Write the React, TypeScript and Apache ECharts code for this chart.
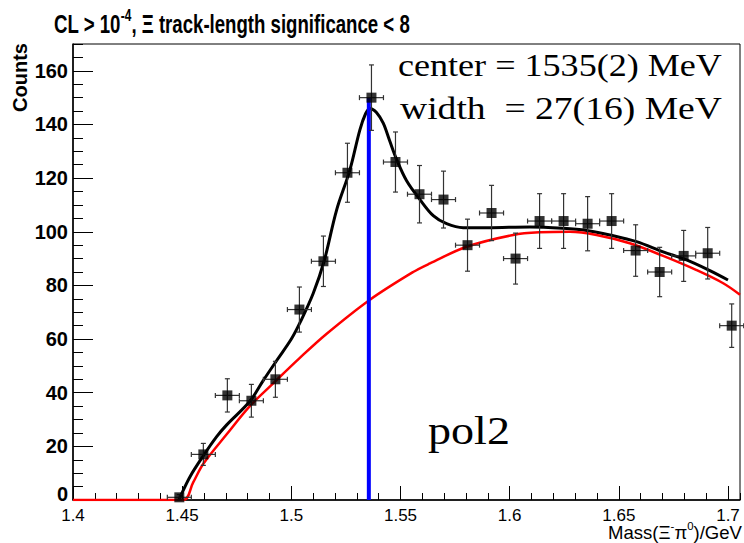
import React, { useEffect, useRef } from "react";
import * as echarts from "echarts";

// ---- data ----
const massBins = [
  1.4487, 1.4597, 1.4707, 1.4817, 1.4927, 1.5037, 1.5147, 1.5257, 1.5367, 1.5477, 1.5587, 1.5697,
  1.5807, 1.5917, 1.6027, 1.6137, 1.6247, 1.6357, 1.6467, 1.6577, 1.6687, 1.6797, 1.6907, 1.7017,
];
const counts = [1, 17, 39, 37, 45, 71, 89, 122, 150, 126, 114, 112, 95, 107, 90, 104, 104, 103, 104, 93, 85, 91, 92, 65];
const countErrors = [
  1, 4.1, 6.2, 6.1, 6.7, 8.4, 9.4, 11.0, 12.2, 11.2, 10.7, 10.6, 9.7, 10.3, 9.5, 10.2, 10.2, 10.1, 10.2, 9.6, 9.2,
  9.5, 9.6, 8.1,
];
const binHalfWidth = 0.0055;

const fitMass = [
  1.4485, 1.449, 1.4536, 1.4597, 1.4658, 1.4704, 1.481, 1.4871, 1.4933, 1.5, 1.5039, 1.51, 1.515, 1.5207, 1.5268,
  1.5314, 1.534, 1.536, 1.539, 1.5421, 1.545, 1.5482, 1.5528, 1.5589, 1.565, 1.5711, 1.5787, 1.59, 1.6093, 1.6245,
  1.6352, 1.6459, 1.6581, 1.6703, 1.681, 1.6917, 1.7,
];
const fitCounts = [
  0, 1, 8.7, 16.5, 23.6, 28, 36.8, 44.5, 52, 60, 66, 77, 89, 108, 123, 138, 144, 146, 144.5, 140.5, 134, 127, 119,
  112, 106, 103, 101.5, 101.5, 101.8, 101.3, 100.5, 98.8, 96.3, 92.5, 89.5, 85.5, 82,
];

const bkgMass = [
  1.4, 1.4504, 1.455, 1.4597, 1.4704, 1.481, 1.4917, 1.5039, 1.5162, 1.5357, 1.5558, 1.5635, 1.5803, 1.6016, 1.6138,
  1.6276, 1.6398, 1.655, 1.6703, 1.6856, 1.6978, 1.7055,
];
const bkgCounts = [0, 0, 6.5, 13.5, 24.5, 35, 43.5, 53, 62, 74.5, 85, 88.2, 94.4, 98.8, 99.8, 100, 98.8, 95.7, 91, 85.7, 80.8, 76.5];

const peakCenter = 1.5355;
const peakLineTop = 150;

const xMin = 1.4;
const xMax = 1.7055;
const yMin = 0;
const yMax = 170;

const titleSegs = [
  { t: "CL > 10" },
  { t: "-4", sup: true },
  { t: ", \u039E track-length significance < 8" },
];
const xTitleSegs = [{ t: "Mass(\u039E" }, { t: "-", sup: true }, { t: "\u03C0" }, { t: "0", sup: true }, { t: ")/GeV" }];
const yTitle = "Counts";
const centerText = "center = 1535(2) MeV";
const widthText = "width  = 27(16) MeV";
const modelText = "pol2";

const SANS = "'Liberation Sans', Arial, Helvetica, sans-serif";
const SERIF = "'Liberation Serif', 'Times New Roman', Times, serif";

let measureCtx: CanvasRenderingContext2D | null = null;
function measure(text: string, font: string): number {
  if (!measureCtx) measureCtx = document.createElement("canvas").getContext("2d");
  if (!measureCtx) return text.length * 10;
  measureCtx.font = font;
  return measureCtx.measureText(text).width;
}

function richLine(
  segs: { t: string; sup?: boolean }[],
  size: number,
  weight: string,
  family: string,
  x: number,
  baseline: number,
  targetWidth: number,
  align: "left" | "right"
) {
  const children: any[] = [];
  let cx = 0;
  const supSize = Math.round(size * 0.62);
  for (const s of segs) {
    const sz = s.sup ? supSize : size;
    const font = `${weight} ${sz}px ${family}`;
    children.push({
      type: "text",
      x: cx,
      y: s.sup ? -size * 0.72 : -size * 0.33,
      style: { text: s.t, font, fill: "#000", textAlign: "left", textVerticalAlign: "middle" },
    });
    cx += measure(s.t, font);
  }
  const scale = targetWidth > 0 ? targetWidth / cx : 1;
  return {
    type: "group",
    x: align === "left" ? x : x - cx * scale,
    y: baseline,
    scaleX: scale,
    children,
  };
}

export default function App() {
  const ref = useRef<HTMLDivElement>(null);
  useEffect(() => {
    if (!ref.current) return;
    const chart = echarts.init(ref.current, null, { renderer: "svg" });

    const fmt = (v: number) => String(parseFloat(v.toFixed(3)));

    const errData = massBins.map((m, i) => [m, counts[i], countErrors[i], binHalfWidth]);

    const option: any = {
      animation: false,
      backgroundColor: "#fff",
      grid: {
        left: 73,
        top: 44,
        width: 667,
        height: 456,
        show: true,
        borderColor: "#000",
        borderWidth: 1,
        backgroundColor: "transparent",
      },
      xAxis: [
        {
          type: "value",
          min: xMin,
          max: xMax,
          interval: 0.05,
          position: "bottom",
          axisLine: { show: true, onZero: false, lineStyle: { color: "#000", width: 1.5 } },
          axisTick: { show: true, inside: true, length: 14, lineStyle: { color: "#000", width: 1 } },
          axisLabel: {
            show: true,
            showMaxLabel: false,
            margin: 7,
            color: "#000",
            fontSize: 17,
            fontFamily: SANS,
            formatter: (v: number) => fmt(v),
          },
          splitLine: { show: false },
        },
        {
          type: "value",
          min: xMin,
          max: xMax,
          interval: 0.01,
          position: "bottom",
          axisLine: { show: false, onZero: false },
          axisTick: { show: true, inside: true, length: 7, lineStyle: { color: "#000", width: 1 } },
          axisLabel: { show: false },
          splitLine: { show: false },
        },
      ],
      yAxis: [
        {
          type: "value",
          min: yMin,
          max: yMax,
          interval: 20,
          position: "left",
          axisLine: { show: true, onZero: false, lineStyle: { color: "#000", width: 1.5 } },
          axisTick: { show: true, inside: true, length: 20, lineStyle: { color: "#000", width: 1 } },
          axisLabel: {
            show: true,
            showMaxLabel: false,
            margin: 5,
            color: "#000",
            fontSize: 20,
            fontWeight: "bold",
            fontFamily: SANS,
            formatter: (v: number) => (v === 0 ? "{z|0}" : String(v)),
            rich: {
              z: {
                fontSize: 20,
                fontWeight: "bold",
                fontFamily: SANS,
                color: "#000",
                padding: [0, 0, 12, 0],
              },
            },
          },
          splitLine: { show: false },
        },
        {
          type: "value",
          min: yMin,
          max: yMax,
          interval: 5,
          position: "left",
          axisLine: { show: false, onZero: false },
          axisTick: { show: true, inside: true, length: 10, lineStyle: { color: "#000", width: 1 } },
          axisLabel: { show: false },
          splitLine: { show: false },
        },
      ],
      series: [
        {
          name: "fit",
          type: "line",
          xAxisIndex: 0,
          yAxisIndex: 0,
          data: fitMass.map((m, i) => [m, fitCounts[i]]),
          showSymbol: false,
          smooth: 0.35,
          lineStyle: { color: "#000", width: 3 },
          z: 3,
          silent: true,
        },
        {
          name: "pol2",
          type: "line",
          xAxisIndex: 0,
          yAxisIndex: 0,
          data: bkgMass.map((m, i) => [m, bkgCounts[i]]),
          showSymbol: false,
          smooth: 0.35,
          lineStyle: { color: "#ff0000", width: 2.5 },
          z: 4,
          silent: true,
        },
        {
          name: "center",
          type: "line",
          xAxisIndex: 0,
          yAxisIndex: 0,
          data: [
            [peakCenter, 0],
            [peakCenter, peakLineTop],
          ],
          showSymbol: false,
          lineStyle: { color: "#0000ff", width: 4 },
          z: 5,
          silent: true,
        },
        {
          name: "errors",
          type: "custom",
          xAxisIndex: 0,
          yAxisIndex: 0,
          data: errData,
          encode: { x: 0, y: 1 },
          z: 6,
          silent: true,
          renderItem: (params: any, api: any) => {
            const x = api.value(0);
            const y = api.value(1);
            const e = api.value(2);
            const hw = api.value(3);
            const c = api.coord([x, y]);
            const top = api.coord([x, y + e]);
            const bot = api.coord([x, Math.max(y - e, 0)]);
            const left = api.coord([x - hw, y]);
            const right = api.coord([x + hw, y]);
            const cap = 2.5;
            const st = { stroke: "#333", lineWidth: 1.2 };
            const ln = (x1: number, y1: number, x2: number, y2: number) => ({
              type: "line",
              shape: { x1, y1, x2, y2 },
              style: st,
            });
            return {
              type: "group",
              children: [
                ln(c[0], top[1], c[0], bot[1]),
                ln(c[0] - cap, top[1], c[0] + cap, top[1]),
                ln(c[0] - cap, bot[1], c[0] + cap, bot[1]),
                ln(left[0], c[1], right[0], c[1]),
                ln(left[0], c[1] - cap, left[0], c[1] + cap),
                ln(right[0], c[1] - cap, right[0], c[1] + cap),
              ],
            };
          },
        },
        {
          name: "data",
          type: "scatter",
          xAxisIndex: 0,
          yAxisIndex: 0,
          data: massBins.map((m, i) => [m, counts[i]]),
          symbol: "rect",
          symbolSize: 10,
          itemStyle: { color: "#000" },
          z: 7,
          silent: true,
        },
      ],
      graphic: [
        richLine(titleSegs, 25, "bold", SANS, 54, 33, 356, "left"),
        {
          type: "text",
          x: 20,
          y: 43,
          rotation: Math.PI / 2,
          style: {
            text: yTitle,
            font: `bold 20px ${SANS}`,
            fill: "#000",
            textAlign: "right",
            textVerticalAlign: "middle",
          },
        },
        richLine(xTitleSegs, 18, "normal", SANS, 742, 539, 134, "right"),
        richLine([{ t: centerText }], 32, "normal", SERIF, 398, 76, 324, "left"),
        richLine([{ t: widthText }], 32, "normal", SERIF, 400, 119, 322, "left"),
        richLine([{ t: modelText }], 40, "normal", SERIF, 428, 444, 82, "left"),
      ],
    };

    chart.setOption(option);
    return () => chart.dispose();
  }, []);

  return (
    <div
      ref={ref}
      style={{ position: "fixed", left: 0, top: 0, width: 744, height: 543, background: "#fff" }}
    />
  );
}
